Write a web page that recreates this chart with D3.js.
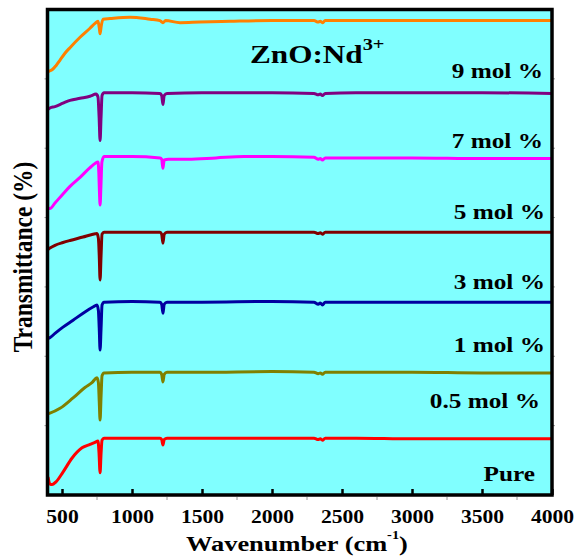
<!DOCTYPE html>
<html>
<head>
<meta charset="utf-8">
<script src="https://cdn.jsdelivr.net/npm/d3@7"></script>
<style>
  body { margin: 0; background: #fff; }
  svg { display: block; font-family: "Liberation Serif", "Times New Roman", serif; font-weight: bold; }
</style>
</head>
<body>
<svg id="ftir"></svg>
<script>
// FTIR spectra, ZnO:Nd3+ series (stacked transmittance)
var wnTicks = [500, 1000, 1500, 2000, 2500, 3000, 3500, 4000];
var seriesNames = ['Pure', '0.5 mol %', '1 mol %', '3 mol %', '5 mol %', '7 mol %', '9 mol %'];

var pure = [[400,0.26],[414,0.16],[429,0.15],[457,0.19],[507,0.33],[571,0.53],[643,0.68],[700,0.73],[736,0.76],[757,0.78],[764,0.62],[772,0.32],[779,0.60],[786,0.79],[800,0.82],[1000,0.82],[1200,0.82],[1212,0.80],[1221,0.72],[1230,0.80],[1250,0.82],[1500,0.82],[2000,0.82],[2300,0.82],[2330,0.80],[2345,0.81],[2360,0.79],[2380,0.82],[2600,0.82],[3000,0.81],[3500,0.81],[4000,0.81]];
var mol05 = [[400,1.17],[414,1.18],[486,1.25],[579,1.40],[664,1.55],[714,1.62],[750,1.69],[760,1.62],[766,1.35],[772,1.08],[779,1.42],[786,1.72],[800,1.76],[1000,1.77],[1200,1.77],[1212,1.74],[1221,1.63],[1230,1.74],[1250,1.77],[1500,1.77],[2000,1.78],[2300,1.77],[2330,1.75],[2345,1.76],[2360,1.74],[2380,1.77],[2600,1.77],[3000,1.77],[3500,1.76],[4000,1.76]];
var mol1 = [[400,2.26],[414,2.27],[450,2.33],[507,2.42],[579,2.52],[664,2.64],[721,2.71],[750,2.74],[760,2.66],[766,2.40],[772,2.09],[779,2.40],[786,2.74],[800,2.78],[1000,2.79],[1200,2.78],[1212,2.75],[1221,2.62],[1230,2.75],[1250,2.78],[1500,2.78],[2000,2.79],[2300,2.78],[2330,2.75],[2345,2.77],[2360,2.74],[2380,2.78],[2600,2.78],[3000,2.78],[3500,2.78],[4000,2.78]];
var mol3 = [[400,3.54],[414,3.56],[450,3.60],[507,3.64],[557,3.67],[650,3.72],[721,3.76],[750,3.77],[760,3.70],[766,3.45],[772,3.10],[779,3.45],[786,3.76],[800,3.79],[1000,3.79],[1200,3.79],[1212,3.76],[1221,3.63],[1230,3.76],[1250,3.79],[1500,3.79],[2000,3.79],[2300,3.79],[2330,3.77],[2345,3.78],[2360,3.76],[2380,3.79],[2600,3.79],[3000,3.79],[3500,3.79],[4000,3.79]];
var mol5 = [[400,4.14],[414,4.13],[450,4.21],[507,4.34],[557,4.45],[629,4.58],[700,4.72],[736,4.78],[757,4.80],[763,4.65],[767,4.40],[772,4.18],[778,4.45],[785,4.80],[800,4.88],[1000,4.88],[1200,4.86],[1212,4.84],[1221,4.71],[1230,4.83],[1260,4.84],[1400,4.84],[1600,4.86],[1800,4.88],[2000,4.88],[2300,4.87],[2330,4.84],[2345,4.85],[2360,4.83],[2380,4.86],[2600,4.86],[3000,4.86],[3500,4.85],[4000,4.85]];
var mol7 = [[400,5.56],[414,5.58],[450,5.60],[507,5.65],[557,5.69],[629,5.72],[700,5.75],[743,5.78],[757,5.74],[765,5.45],[772,5.11],[779,5.45],[786,5.76],[800,5.80],[1000,5.80],[1200,5.79],[1212,5.76],[1221,5.63],[1230,5.76],[1250,5.79],[1500,5.80],[2000,5.80],[2300,5.79],[2330,5.77],[2345,5.78],[2360,5.76],[2380,5.79],[2600,5.80],[3000,5.80],[3500,5.80],[4000,5.79]];
var mol9 = [[400,6.10],[407,6.11],[429,6.13],[457,6.19],[486,6.27],[521,6.37],[557,6.45],[629,6.60],[700,6.73],[736,6.80],[757,6.83],[766,6.74],[772,6.65],[780,6.76],[793,6.86],[843,6.87],[986,6.89],[1129,6.86],[1200,6.84],[1221,6.81],[1240,6.84],[1343,6.81],[1486,6.82],[1700,6.83],[2000,6.84],[2300,6.84],[2330,6.82],[2345,6.83],[2360,6.81],[2380,6.84],[2600,6.84],[3000,6.84],[3500,6.84],[4000,6.84]];

var allSeries = [pure, mol05, mol1, mol3, mol5, mol7, mol9];
var colors = ['#FF0000', '#808000', '#0000A0', '#800000', '#FF00FF', '#800080', '#FF8000'];
// label anchor (right end, baseline) in pixels
var labelPos = [[535, 481], [540, 408], [545, 352], [545, 289], [545, 219], [543, 148], [543, 78]];

var width = 576;
var height = 557;
var frame = {left: 47.5, right: 552, top: 9.5, bottom: 495};

var svg = d3.select('#ftir')
	.attr('width', width)
	.attr('height', height);

var x = d3.scaleLinear()
	.domain([400, 4000])
	.range([48, 552]);

var y = d3.scaleLinear()
	.domain([0, 7])
	.range([frame.bottom, frame.top]);

// plot background
svg.append('rect')
	.attr('x', frame.left)
	.attr('y', frame.top)
	.attr('width', frame.right - frame.left)
	.attr('height', frame.bottom - frame.top)
	.attr('fill', '#80FFFF');

/****************************
 * spectra
 ****************************/
var line = d3.line()
	.x(function(d) { return x(d[0]); })
	.y(function(d) { return y(d[1]); })
	.curve(d3.curveMonotoneX);

svg.append('g')
	.selectAll('path')
	.data(allSeries)
	.enter().append('path')
	.attr('d', line)
	.attr('fill', 'none')
	.attr('stroke', function(d, i) { return colors[i]; })
	.attr('stroke-width', 3)
	.attr('stroke-linejoin', 'round');

/****************************
 * axes
 ****************************/
var xAxis = d3.axisBottom(x)
	.tickValues(wnTicks)
	.tickSizeInner(-6)
	.tickSizeOuter(0)
	.tickFormat(d3.format('d'));

var gx = svg.append('g')
	.attr('transform', 'translate(0,' + frame.bottom + ')')
	.call(xAxis);

gx.select('.domain').remove();
gx.selectAll('.tick line')
	.attr('stroke', '#000')
	.attr('stroke-width', 2.5);
gx.selectAll('.tick text')
	.attr('y', 28)
	.attr('dy', null)
	.attr('fill', '#000')
	.attr('font-size', 18)
	.attr('font-family', '"Liberation Serif", serif')
	.attr('font-weight', 'bold')
	.attr('transform', 'scale(1.2,1)');

// minor ticks, outward and faint
svg.append('g')
	.selectAll('line')
	.data(d3.range(750, 4000, 500))
	.enter().append('line')
	.attr('x1', function(d) { return x(d); })
	.attr('x2', function(d) { return x(d); })
	.attr('y1', frame.bottom + 2)
	.attr('y2', frame.bottom + 5)
	.attr('stroke', '#999')
	.attr('stroke-width', 1);

var yMinor = y.ticks(7).filter(function(d) { return d > 0 && d < 7; });
svg.append('g')
	.selectAll('line')
	.data(yMinor)
	.enter().append('line')
	.attr('x1', frame.left - 3)
	.attr('x2', frame.left)
	.attr('y1', function(d) { return y(d); })
	.attr('y2', function(d) { return y(d); })
	.attr('stroke', '#999')
	.attr('stroke-width', 1);
svg.append('g')
	.selectAll('line')
	.data(yMinor)
	.enter().append('line')
	.attr('x1', frame.right)
	.attr('x2', frame.right + 3)
	.attr('y1', function(d) { return y(d); })
	.attr('y2', function(d) { return y(d); })
	.attr('stroke', '#999')
	.attr('stroke-width', 1);

// frame
svg.append('rect')
	.attr('x', frame.left)
	.attr('y', frame.top)
	.attr('width', frame.right - frame.left)
	.attr('height', frame.bottom - frame.top)
	.attr('fill', 'none')
	.attr('stroke', '#000')
	.attr('stroke-width', 3.5);

/****************************
 * texts
 ****************************/
svg.append('g')
	.selectAll('text')
	.data(seriesNames)
	.enter().append('text')
	.attr('transform', function(d, i) { return 'translate(' + labelPos[i][0] + ',' + labelPos[i][1] + ') scale(1.15,1)'; })
	.attr('text-anchor', 'end')
	.attr('font-size', 22)
	.attr('fill', '#000')
	.text(function(d) { return d; });

var title = svg.append('text')
	.attr('transform', 'translate(250,63) scale(1.2,1)')
	.attr('font-size', 26)
	.attr('fill', '#000');
title.append('tspan').text('ZnO:Nd');
title.append('tspan').attr('dy', -13).attr('font-size', 17).text('3+');

var xLabel = svg.append('text')
	.attr('transform', 'translate(297,551) scale(1.2,1)')
	.attr('text-anchor', 'middle')
	.attr('font-size', 22)
	.attr('fill', '#000');
xLabel.append('tspan').text('Wavenumber (cm');
xLabel.append('tspan').attr('dy', -12).attr('font-size', 12).text('-1');
xLabel.append('tspan').attr('dy', 12).text(')');

svg.append('text')
	.attr('transform', 'translate(32,257) scale(1.2,1) rotate(-90)')
	.attr('text-anchor', 'middle')
	.attr('font-size', 23.5)
	.attr('fill', '#000')
	.text('Transmittance (%)');
</script>
</body>
</html>
